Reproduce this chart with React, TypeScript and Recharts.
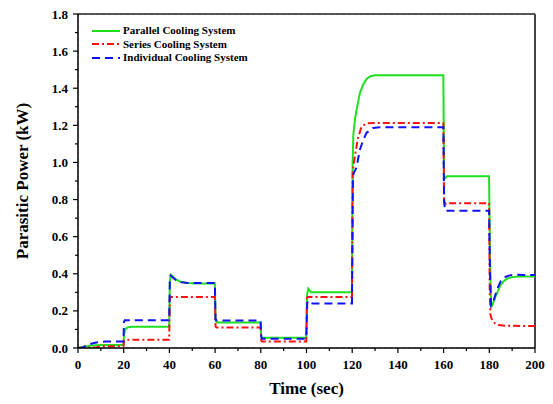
import React from 'react';
import {
  LineChart,
  Line,
  XAxis,
  YAxis,
  CartesianGrid,
  ReferenceLine,
  Legend,
} from 'recharts';

// time axis ticks (minor every 10 s, labelled every 20 s)
const xTicks = [0, 10, 20, 30, 40, 50, 60, 70, 80, 90, 100, 110, 120, 130, 140, 150, 160, 170, 180, 190, 200];
const xMajor = [0, 20, 40, 60, 80, 100, 120, 140, 160, 180, 200];
const yTicks = [0, 0.1, 0.2, 0.3, 0.4, 0.5, 0.6, 0.7, 0.8, 0.9, 1.0, 1.1, 1.2, 1.3, 1.4, 1.5, 1.6, 1.7, 1.8];
const yMajor = [0, 0.2, 0.4, 0.6, 0.8, 1.0, 1.2, 1.4, 1.6, 1.8];

// Parallel cooling system
const parallelTime = [
  0, 3, 6, 10, 19.9, 20.1, 20.5, 21, 22, 24, 39.9, 40.2, 40.6, 41.5, 43, 45, 48, 52, 59.9, 60.2, 61,
  79.9, 80.2, 81, 99.9, 100.3, 100.8, 102, 119.9, 120.2, 120.5, 121.2, 122, 123.4, 124.8, 126.3, 128, 130,
  159.9, 160.2, 160.6, 161.5, 179.9, 180.3, 180.8, 181.5, 182.5, 183.5, 185, 186.5, 188, 190, 193, 200,
];
const parallelPower = [
  0, 0.008, 0.014, 0.016, 0.016, 0.06, 0.095, 0.105, 0.112, 0.115, 0.115, 0.36, 0.395, 0.385, 0.368, 0.356, 0.35, 0.348, 0.348, 0.145, 0.138,
  0.138, 0.06, 0.055, 0.055, 0.29, 0.32, 0.3, 0.3, 1.0, 1.15, 1.23, 1.29, 1.375, 1.42, 1.45, 1.465, 1.47,
  1.47, 0.93, 0.915, 0.925, 0.925, 0.5, 0.22, 0.235, 0.27, 0.3, 0.34, 0.362, 0.375, 0.382, 0.385, 0.385,
];

// Series cooling system
const seriesTime = [
  0, 8, 10, 19.9, 20.1, 20.6, 39.9, 40.2, 40.6, 59.9, 60.2, 60.6, 79.9, 80.2, 80.6, 99.9, 100.2, 100.6,
  119.9, 120.2, 121, 121.8, 122.5, 124, 126, 130, 159.9, 160.2, 160.5, 161, 179.9, 180.2, 180.5, 181.2,
  182.5, 184, 187, 200,
];
const seriesPower = [
  0, 0.003, 0.01, 0.01, 0.04, 0.045, 0.045, 0.27, 0.275, 0.275, 0.115, 0.11, 0.11, 0.04, 0.035, 0.035, 0.27, 0.275,
  0.275, 0.95, 1.02, 1.08, 1.13, 1.19, 1.21, 1.213, 1.213, 0.8, 0.765, 0.78, 0.78, 0.3, 0.18, 0.15,
  0.132, 0.124, 0.12, 0.118,
];

// Individual cooling system
const individualTime = [
  0, 2, 5, 8, 12, 19.9, 20.1, 20.5, 39.9, 40.2, 40.6, 41.5, 43, 45, 48, 59.9, 60.2, 60.6, 79.9, 80.2, 80.6,
  99.9, 100.3, 100.7, 102, 103, 119.9, 120.3, 120.6, 121.8, 123.4, 124.8, 126.3, 129.2, 132, 159.9, 160.2,
  160.6, 179.9, 180.3, 180.8, 181.5, 182.5, 183.5, 185, 186.5, 188.5, 191, 200,
];
const individualPower = [
  0, 0.003, 0.02, 0.03, 0.035, 0.035, 0.14, 0.15, 0.15, 0.36, 0.39, 0.38, 0.365, 0.355, 0.35, 0.35, 0.155, 0.148, 0.148, 0.06, 0.05,
  0.05, 0.24, 0.255, 0.242, 0.24, 0.24, 0.9, 0.94, 0.97, 1.07, 1.12, 1.16, 1.186, 1.19, 1.19, 0.8,
  0.74, 0.74, 0.4, 0.23, 0.24, 0.28, 0.32, 0.36, 0.38, 0.39, 0.395, 0.393,
];

const toPoints = (ts: number[], vs: number[]) => ts.map((t, i) => ({ t, v: vs[i] }));

const FONT = '"Liberation Serif", "Times New Roman", serif';

const SERIES = [
  { name: 'Parallel Cooling System', color: '#1fe01f', dash: undefined as string | undefined, data: toPoints(parallelTime, parallelPower) },
  { name: 'Series Cooling System', color: '#ff1010', dash: '7 3 2 3', data: toPoints(seriesTime, seriesPower) },
  { name: 'Individual Cooling System', color: '#1010ff', dash: '8 5', data: toPoints(individualTime, individualPower) },
];

const XTick = ({ x, y, payload }: any) => {
  const major = payload.value % 20 === 0;
  return (
    <g>
      <line x1={x} x2={x} y1={y} y2={y + (major ? 5 : 3)} stroke="#000" strokeWidth={1.2} />
      {major && (
        <text x={x} y={y + 21} textAnchor="middle" fontFamily={FONT} fontWeight="bold" fontSize={13} fill="#000">
          {payload.value}
        </text>
      )}
    </g>
  );
};

const YTick = ({ x, y, payload }: any) => {
  const major = Math.round(payload.value * 10) % 2 === 0;
  return (
    <g>
      <line x1={x - (major ? 5 : 3)} x2={x} y1={y} y2={y} stroke="#000" strokeWidth={1.2} />
      {major && (
        <text x={x - 10} y={y} dy={4.5} textAnchor="end" fontFamily={FONT} fontWeight="bold" fontSize={13} fill="#000">
          {payload.value.toFixed(1)}
        </text>
      )}
    </g>
  );
};

const LegendBox = () => (
  <div style={{ fontFamily: FONT, fontWeight: 'bold', fontSize: 11, color: '#000', lineHeight: '13.5px' }}>
    {SERIES.map((s) => (
      <div key={s.name} style={{ display: 'flex', alignItems: 'center', height: 13.5 }}>
        <svg width={29} height={6} style={{ marginRight: 2 }}>
          <line x1={0} x2={28} y1={3} y2={3} stroke={s.color} strokeWidth={2} strokeDasharray={s.dash} />
        </svg>
        <span>{s.name}</span>
      </div>
    ))}
  </div>
);

export default function App() {
  return (
    <div style={{ position: 'absolute', left: 0, top: 0, width: 553, height: 404, background: '#fff' }}>
      <LineChart width={553} height={404} margin={{ top: 14, right: 18, bottom: 0, left: 0 }}>
        <XAxis xAxisId="g" type="number" domain={[0, 200]} ticks={xMajor} hide />
        <YAxis yAxisId="g" type="number" domain={[0, 1.8]} ticks={yMajor} hide />
        <CartesianGrid xAxisId="g" yAxisId="g" stroke="#b4b4b4" strokeDasharray="3 3" />
        <XAxis
          dataKey="t"
          type="number"
          domain={[0, 200]}
          ticks={xTicks}
          interval={0}
          height={56}
          tickLine={false}
          tickSize={0}
          tickMargin={0}
          tick={<XTick />}
          axisLine={{ stroke: '#000', strokeWidth: 1.5 }}
          allowDataOverflow
          label={{
            content: ({ viewBox }: any) => (
              <text
                x={viewBox.x + viewBox.width / 2}
                y={viewBox.y + 46}
                textAnchor="middle"
                fontFamily={FONT}
                fontWeight="bold"
                fontSize={17}
                fill="#000"
              >
                Time (sec)
              </text>
            ),
          }}
        />
        <YAxis
          type="number"
          domain={[0, 1.8]}
          ticks={yTicks}
          interval={0}
          width={78}
          tickLine={false}
          tickSize={0}
          tickMargin={0}
          tick={<YTick />}
          axisLine={{ stroke: '#000', strokeWidth: 1.5 }}
          allowDataOverflow
          label={{
            content: ({ viewBox }: any) => {
              const cx = viewBox.x + 22;
              const cy = viewBox.y + viewBox.height / 2;
              return (
                <text
                  x={cx}
                  y={cy}
                  transform={`rotate(-90 ${cx} ${cy})`}
                  textAnchor="middle"
                  dominantBaseline="central"
                  fontFamily={FONT}
                  fontWeight="bold"
                  fontSize={17}
                  fill="#000"
                >
                  Parasitic Power (kW)
                </text>
              );
            },
          }}
        />
        <ReferenceLine y={1.8} stroke="#222" strokeWidth={1.5} />
        <ReferenceLine x={200} stroke="#444" strokeWidth={2} />
        {SERIES.map((s) => (
          <Line
            key={s.name}
            data={s.data}
            dataKey="v"
            name={s.name}
            type="linear"
            stroke={s.color}
            strokeWidth={2}
            strokeDasharray={s.dash}
            dot={false}
            activeDot={false}
            isAnimationActive={false}
          />
        ))}
        <Legend
          layout="vertical"
          align="center"
          verticalAlign="middle"
          content={<LegendBox />}
          wrapperStyle={{ position: 'absolute', top: 24, left: 92, width: 200 }}
        />
      </LineChart>
    </div>
  );
}
